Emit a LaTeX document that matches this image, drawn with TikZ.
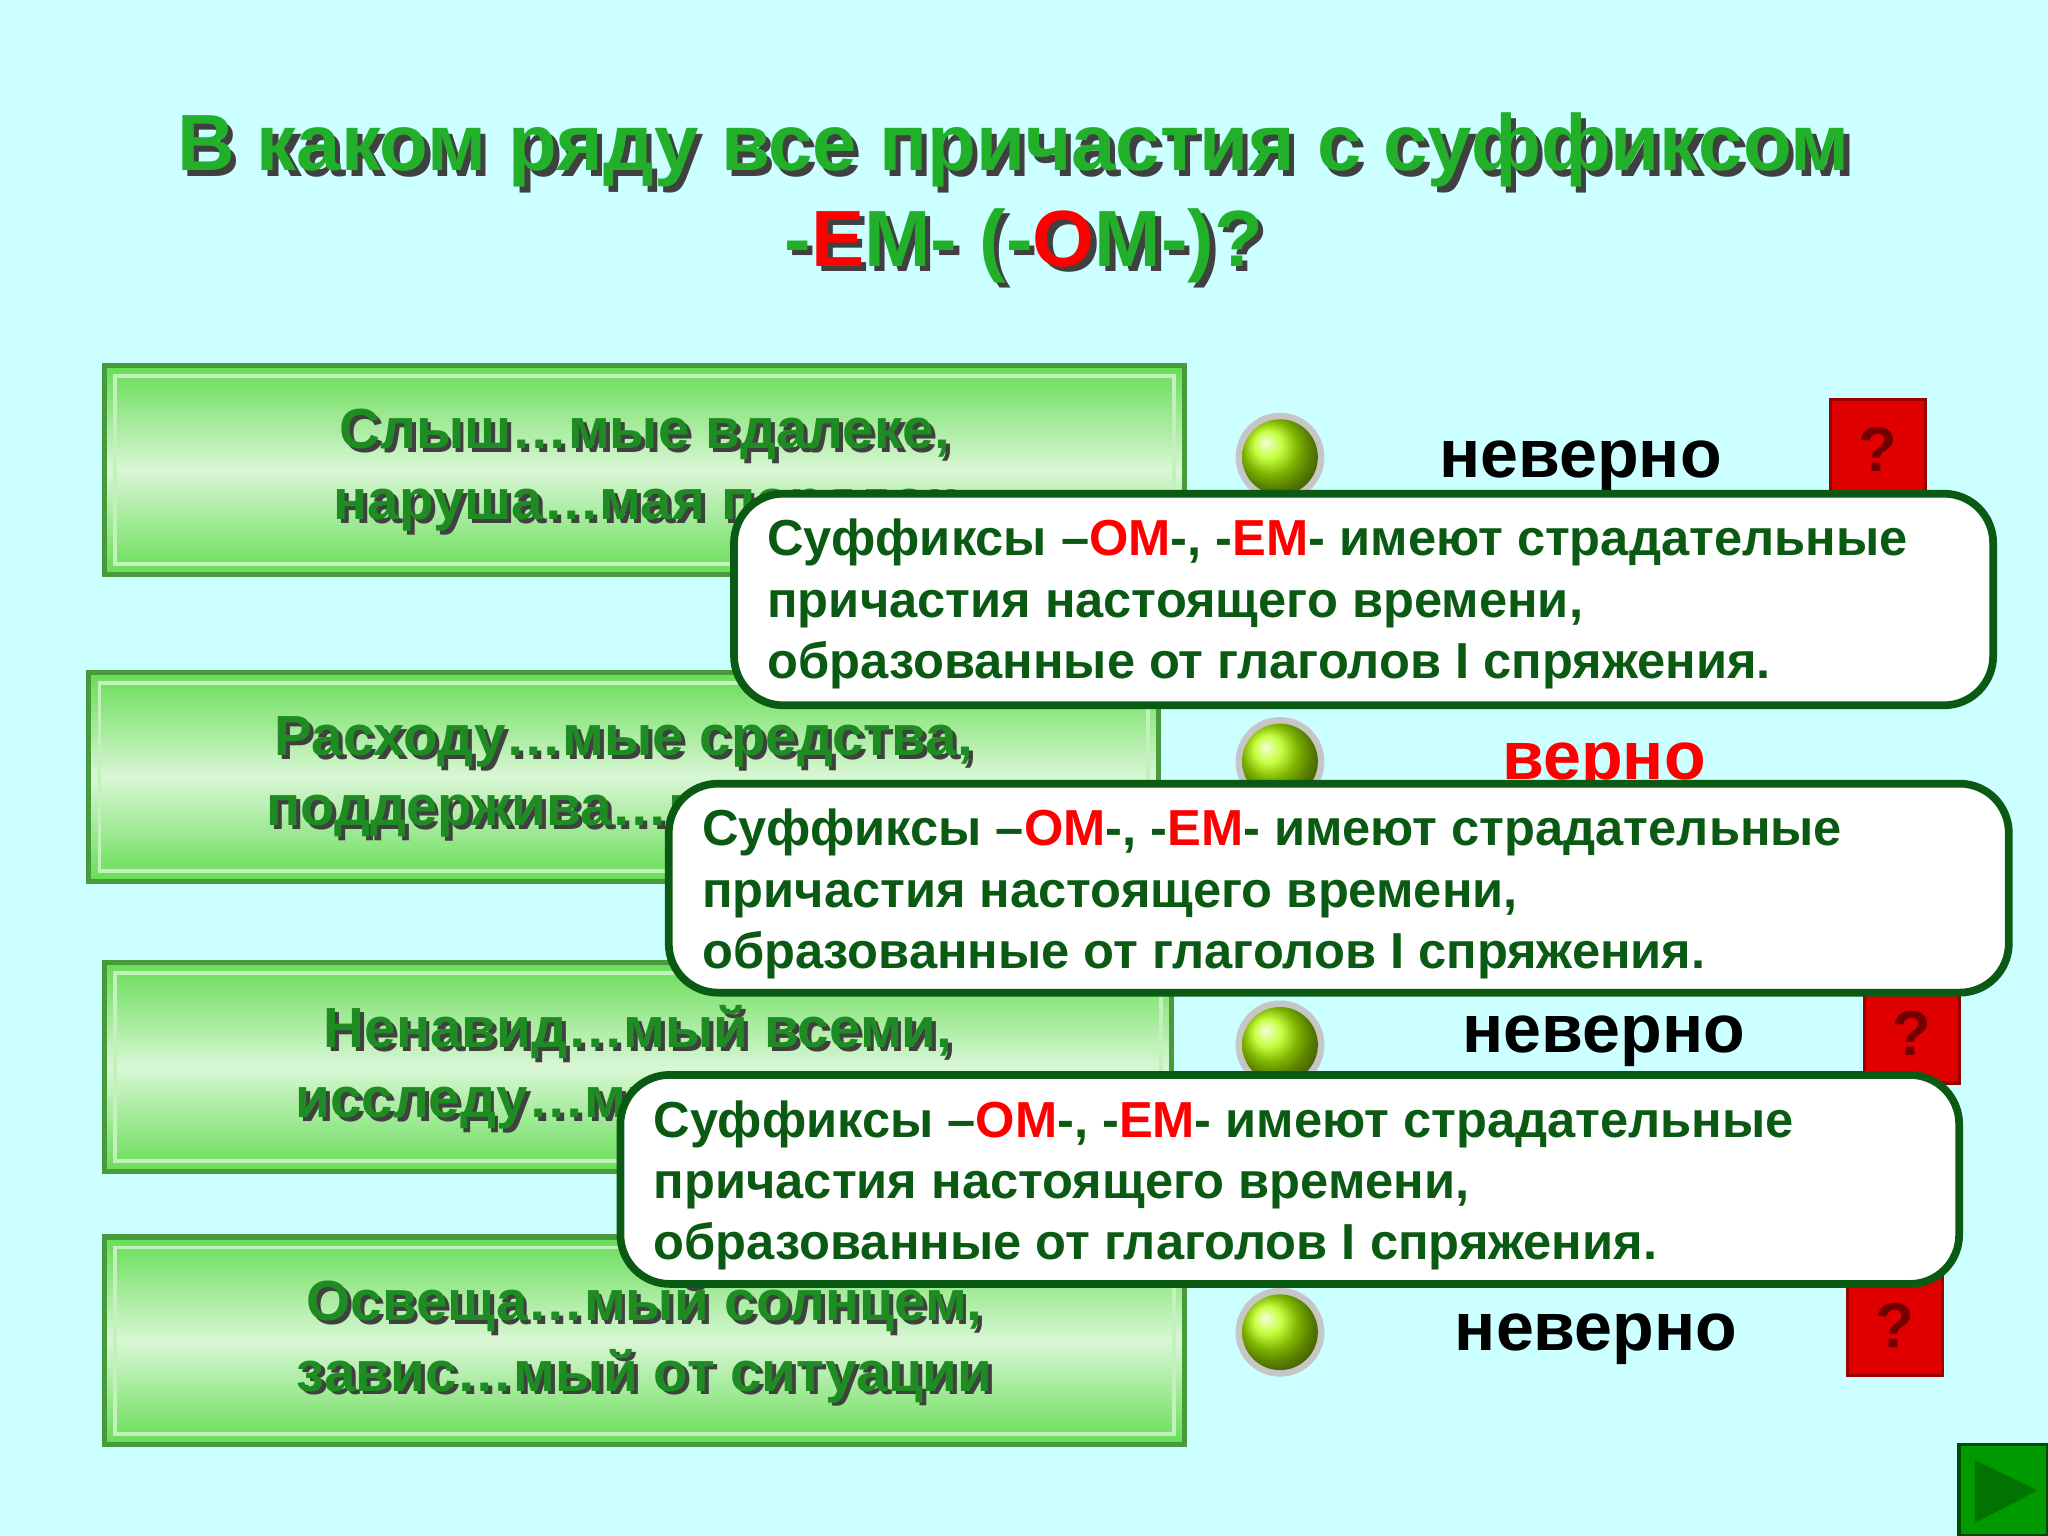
\documentclass[tikz,border=0pt]{standalone}
\usepackage{fontspec}
\setmainfont{Liberation Sans}
\usetikzlibrary{shadows}
\definecolor{bg}{HTML}{CCFFFF}
\definecolor{tgreen}{HTML}{22B02A}
\definecolor{mgreen}{HTML}{1E8C22}
\definecolor{dgreen}{HTML}{0B5A14}
\definecolor{bgreen}{HTML}{66DD55}
\definecolor{qred}{HTML}{E00000}
\tikzset{
  gbox/.style={draw=bgreen!70!black, line width=1.5pt, top color=bgreen, bottom color=bgreen, middle color=white!75!bgreen},
  btext/.style={font=\fontsize{16.1}{20}\selectfont\bfseries, align=center, text=mgreen},
  bshadow/.style={font=\fontsize{16.1}{20}\selectfont\bfseries, align=center, text=black!75},
  lab/.style={font=\fontsize{19.4}{22}\selectfont\bfseries},
  callout/.style={draw=dgreen, line width=2.2pt, fill=white, rounded corners=14pt},
  ctext/.style={font=\fontsize{14.4}{17.4}\selectfont\bfseries, align=left, text=dgreen, anchor=north west, inner sep=0pt},
  qbox/.style={draw=red!60!black, fill=qred, line width=1pt, minimum width=0.95cm, minimum height=1cm, inner sep=0pt, font=\fontsize{18}{18}\selectfont\bfseries, text=red!45!black}
}
\newcommand{\ctxt}{Суффиксы –\textcolor{red}{ОМ}-, -\textcolor{red}{ЕМ}- имеют страдательные\\причастия настоящего времени,\\образованные от глаголов I спряжения.}
\begin{document}
\begin{tikzpicture}[x=0.013061cm,y=-0.013061cm]
\fill[bg] (0,0) rectangle (1568,1176);
\useasboundingbox (0,0) rectangle (1568,1176);
% title
\node[font=\fontsize{22.7}{26}\selectfont\bfseries, text=black!75] (tsh) at (780,119) {В каком ряду все причастия с суффиксом};
\node[font=\fontsize{22.7}{26}\selectfont\bfseries, text=tgreen] (t1) at (776,115) {В каком ряду все причастия с суффиксом};
\node[font=\fontsize{22.7}{26}\selectfont\bfseries, text=black!75] (t2sh) at (788,192) {-ЕМ- (-ОМ-)?};
\node[font=\fontsize{22.7}{26}\selectfont\bfseries, text=tgreen] (t2) at (784,188) {-\textcolor{red}{Е}М- (-\textcolor{red}{О}М-)?};
% boxes
\foreach \x/\y/\X/\Y/\n/\a/\b in {80/280/907/440/1/{Слыш…мые вдалеке,}/{наруша…мая порядок}, 68/515/887/675/2/{Расходу…мые средства,}/{поддержива…мый всеми}, 80/737/897/897/3/{Ненавид…мый всеми,}/{исследу…мый учёными}, 80/947/907/1106/4/{Освеща…мый солнцем,}/{завис…мый от ситуации}}{
  \draw[gbox] (\x,\y) rectangle (\X,\Y);
  \draw[white!60!bgreen, line width=1pt] (\x+8,\y+8) rectangle (\X-8,\Y-8);
  \node[bshadow] (bs\n) at ({(\x+\X)/2+3},{(\y+\Y)/2+3}) {\a\\\b};
  \node[btext] (bt\n) at ({(\x+\X)/2},{(\y+\Y)/2}) {\a\\\b};
}
% balls
\foreach \y/\n in {350/1,583/2,800/3,1020/4}{
  \fill[gray!45] (980,\y) circle (34);
  \shade[ball color=yellow!70!green] (980,\y) circle (29);
  \coordinate (ball\n) at (980,\y);
}
\node[lab] (l1) at (1210,357) {неверно};
\node[lab, text=red] (l2) at (1228,588) {верно};
\node[lab] (l3) at (1228,797) {неверно};
\node[lab] (l4) at (1222,1025) {неверно};
\node[qbox] (q1) at (1438,344) {?};
\node[qbox] (q3) at (1464,791) {?};
\node[qbox] (q4) at (1451,1015) {?};
% callouts
\draw[callout] (562,378) rectangle (1526,540);
\node[ctext] (c1) at (587,397) {\ctxt};
\draw[callout] (512,600) rectangle (1538,760);
\node[ctext] (c2) at (537,619) {\ctxt};
\draw[callout] (475,823) rectangle (1500,983);
\node[ctext] (c3) at (500,842) {\ctxt};
% next button
\draw[fill=green!60!black, draw=green!30!black, line width=1pt] (1500,1106) rectangle (1568,1176);
\fill[green!45!black] (1512,1118) -- (1560,1141) -- (1512,1166) -- cycle;
\end{tikzpicture}
\end{document}
